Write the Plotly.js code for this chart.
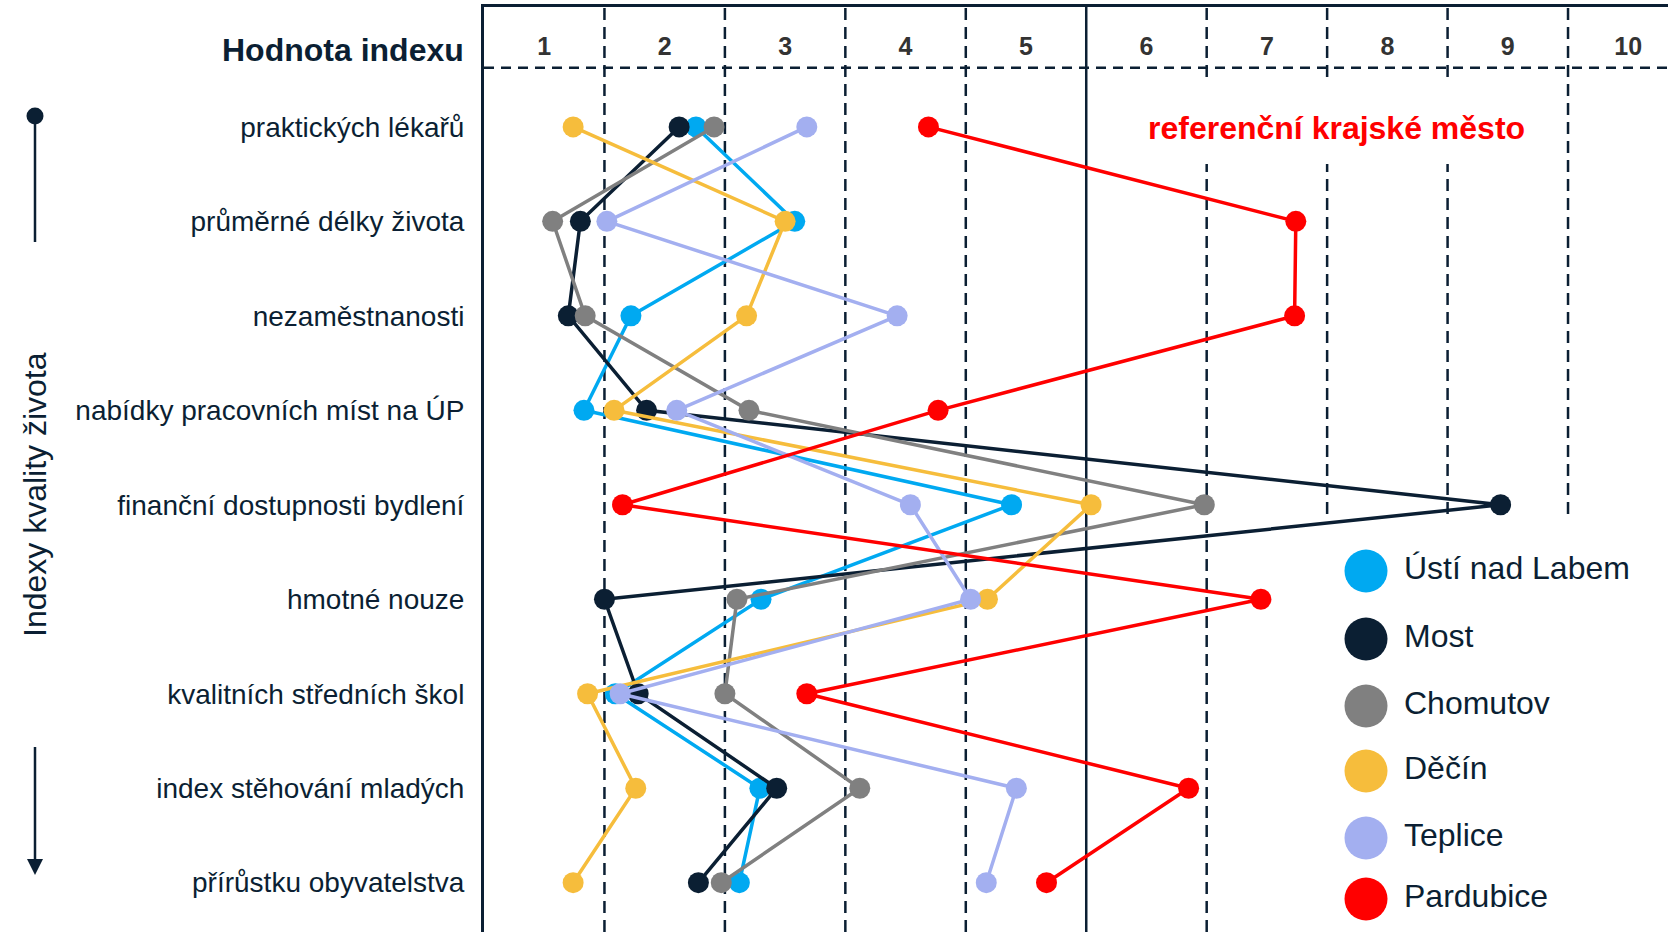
<!DOCTYPE html>
<html>
<head>
<meta charset="utf-8">
<script src="https://cdn.plot.ly/plotly-3.0.1.min.js"></script>
<style>
  html, body { margin: 0; padding: 0; background: #ffffff; }
  #chart { width: 1668px; height: 932px; }
</style>
</head>
<body>
<div id="chart"></div>
<script>
// ---------- data ----------
const categories = [
  "praktických lékařů",
  "průměrné délky života",
  "nezaměstnanosti",
  "nabídky pracovních míst na ÚP",
  "finanční dostupnosti bydlení",
  "hmotné nouze",
  "kvalitních středních škol",
  "index stěhování mladých",
  "přírůstku obyvatelstva"
];
const seriesNames  = ["Ústí nad Labem", "Most", "Chomutov", "Děčín", "Teplice", "Pardubice"];
const seriesColors = ["#00a9f1", "#0b1f33", "#808080", "#f6bd3c", "#a3aff0", "#ff0000"];

const ustiValues      = [2.26, 3.08, 1.72, 1.33, 4.88, 2.80, 1.59, 2.79, 2.62];
const mostValues      = [2.12, 1.30, 1.20, 1.85, 8.94, 1.50, 1.78, 2.93, 2.28];
const chomutovValues  = [2.41, 1.07, 1.34, 2.70, 6.48, 2.60, 2.50, 3.62, 2.47];
const decinValues     = [1.24, 3.00, 2.68, 1.58, 5.54, 4.68, 1.36, 1.76, 1.24];
const tepliceValues   = [3.18, 1.52, 3.93, 2.10, 4.04, 4.54, 1.63, 4.92, 4.67];
const pardubiceValues = [4.19, 7.24, 7.23, 4.27, 1.65, 6.95, 3.18, 6.35, 5.17];

const tickValues = [1, 2, 3, 4, 5, 6, 7, 8, 9, 10];
const tickLabels = ["1", "2", "3", "4", "5", "6", "7", "8", "9", "10"];

const headerTitle = "Hodnota indexu";
const axisTitle = "Indexy kvality života";
const referenceNote = "referenční krajské město";

// ---------- geometry ----------
const W = 1668, H = 932;
const PL = 484, PT = 7, PW = W - PL, PH = H - PT;
const fx = px => (px - PL) / PW;
const fy = py => 1 - (py - PT) / PH;
const NAVY = "#0b1f33";
const FONT = "Liberation Sans, Arial, sans-serif";

const allValues = [ustiValues, mostValues, chomutovValues, decinValues, tepliceValues, pardubiceValues];
const rowIdx = categories.map((c, i) => i);

const traces = [];
allValues.forEach((vals, s) => {
  traces.push({
    type: "scatter",
    mode: "lines+markers",
    name: seriesNames[s],
    x: vals,
    y: rowIdx,
    line: { color: seriesColors[s], width: 3.5 },
    marker: { color: seriesColors[s], size: 21 },
    showlegend: false,
    hoverinfo: "skip"
  });
});

// header row of index values
traces.push({
  type: "scatter",
  mode: "text",
  x: tickValues,
  y: tickValues.map(() => -0.832),
  text: tickLabels,
  textposition: "middle center",
  textfont: { family: FONT, size: 25, color: "#333333", weight: "bold" },
  showlegend: false,
  hoverinfo: "skip",
  cliponaxis: false
});

// custom legend (pixel-unit overlay axes)
const legX = 1366;
const legY = [571, 639, 706, 771, 838, 899];
traces.push({
  type: "scatter",
  mode: "markers",
  xaxis: "x2", yaxis: "y2",
  x: seriesNames.map(() => legX),
  y: legY,
  marker: { color: seriesColors, size: 43 },
  showlegend: false,
  hoverinfo: "skip",
  cliponaxis: false
});
traces.push({
  type: "scatter",
  mode: "text",
  xaxis: "x2", yaxis: "y2",
  x: seriesNames.map(() => legX + 38),
  y: legY,
  text: seriesNames,
  textposition: "middle right",
  textfont: { family: FONT, size: 32, color: NAVY },
  showlegend: false,
  hoverinfo: "skip",
  cliponaxis: false
});

// ---------- shapes ----------
const shapes = [];
for (let i = 0; i < tickValues.length - 1; i++) {
  const g = tickValues[i] + 0.5;
  const solid = (g === 5.5);
  shapes.push({
    type: "line", layer: "below",
    xref: "x", yref: "paper",
    x0: g, x1: g, y0: 0, y1: 1,
    line: { color: NAVY, width: 2.5, dash: solid ? "solid" : "12px,7px" }
  });
}
// header separator
shapes.push({
  type: "line", layer: "below",
  xref: "paper", yref: "paper",
  x0: 0, x1: 1, y0: fy(67.7), y1: fy(67.7),
  line: { color: NAVY, width: 2.5, dash: "10px,7px" }
});
// white boxes behind note and legend
shapes.push({
  type: "rect", layer: "below", xref: "paper", yref: "paper",
  x0: fx(1118), x1: fx(1552), y0: fy(164), y1: fy(84),
  fillcolor: "#ffffff", line: { width: 0 }
});
shapes.push({
  type: "rect", layer: "below", xref: "paper", yref: "paper",
  x0: fx(1292), x1: 1.01, y0: -0.01, y1: fy(521),
  fillcolor: "#ffffff", line: { width: 0 }
});
// left-side arrow decoration
shapes.push({
  type: "line", xref: "paper", yref: "paper",
  x0: fx(35), x1: fx(35), y0: fy(116), y1: fy(242),
  line: { color: NAVY, width: 2.5 }
});
shapes.push({
  type: "circle", xref: "paper", yref: "paper",
  x0: fx(26.5), x1: fx(43.5), y0: fy(124.5), y1: fy(107.5),
  fillcolor: NAVY, line: { color: NAVY, width: 0 }
});
shapes.push({
  type: "line", xref: "paper", yref: "paper",
  x0: fx(35), x1: fx(35), y0: fy(747), y1: fy(862),
  line: { color: NAVY, width: 2.5 }
});
shapes.push({
  type: "path", xref: "paper", yref: "paper",
  path: `M ${fx(27)},${fy(859)} L ${fx(43)},${fy(859)} L ${fx(35)},${fy(875)} Z`,
  fillcolor: NAVY, line: { color: NAVY, width: 0 }
});

// ---------- annotations ----------
const annotations = [
  {
    xref: "paper", yref: "paper",
    x: fx(466), y: fy(50.5), xanchor: "right", yanchor: "middle",
    text: headerTitle, showarrow: false,
    font: { family: FONT, size: 32, color: NAVY, weight: "bold" }
  },
  {
    xref: "paper", yref: "paper",
    x: fx(35), y: fy(495), xanchor: "center", yanchor: "middle",
    text: axisTitle, showarrow: false, textangle: -90,
    font: { family: FONT, size: 32, color: NAVY }
  },
  {
    xref: "paper", yref: "paper",
    x: fx(1336), y: fy(128), xanchor: "center", yanchor: "middle",
    text: referenceNote, showarrow: false,
    font: { family: FONT, size: 32, color: "#ff0000", weight: "bold" }
  }
];

const layout = {
  width: W, height: H,
  margin: { l: PL, r: 0, t: PT, b: 0, pad: 0 },
  paper_bgcolor: "#ffffff",
  plot_bgcolor: "rgba(0,0,0,0)",
  showlegend: false,
  hovermode: false,
  xaxis: {
    range: [0.5, 10.33], autorange: false, side: "top",
    showgrid: false, zeroline: false, showticklabels: false, ticks: "",
    showline: true, linecolor: NAVY, linewidth: 3
  },
  yaxis: {
    range: [8.522, -1.269], autorange: false,
    tickmode: "array", tickvals: rowIdx, ticktext: categories,
    tickfont: { family: FONT, size: 28, color: NAVY },
    ticks: "", ticklabelstandoff: 11,
    showgrid: false, zeroline: false,
    showline: true, linecolor: NAVY, linewidth: 3
  },
  xaxis2: { overlaying: "x", anchor: "y2", range: [PL, W], autorange: false, visible: false },
  yaxis2: { overlaying: "y", anchor: "x2", range: [H, PT], autorange: false, visible: false },
  shapes: shapes,
  annotations: annotations
};

Plotly.newPlot("chart", traces, layout, { staticPlot: true, displayModeBar: false });
</script>
</body>
</html>
